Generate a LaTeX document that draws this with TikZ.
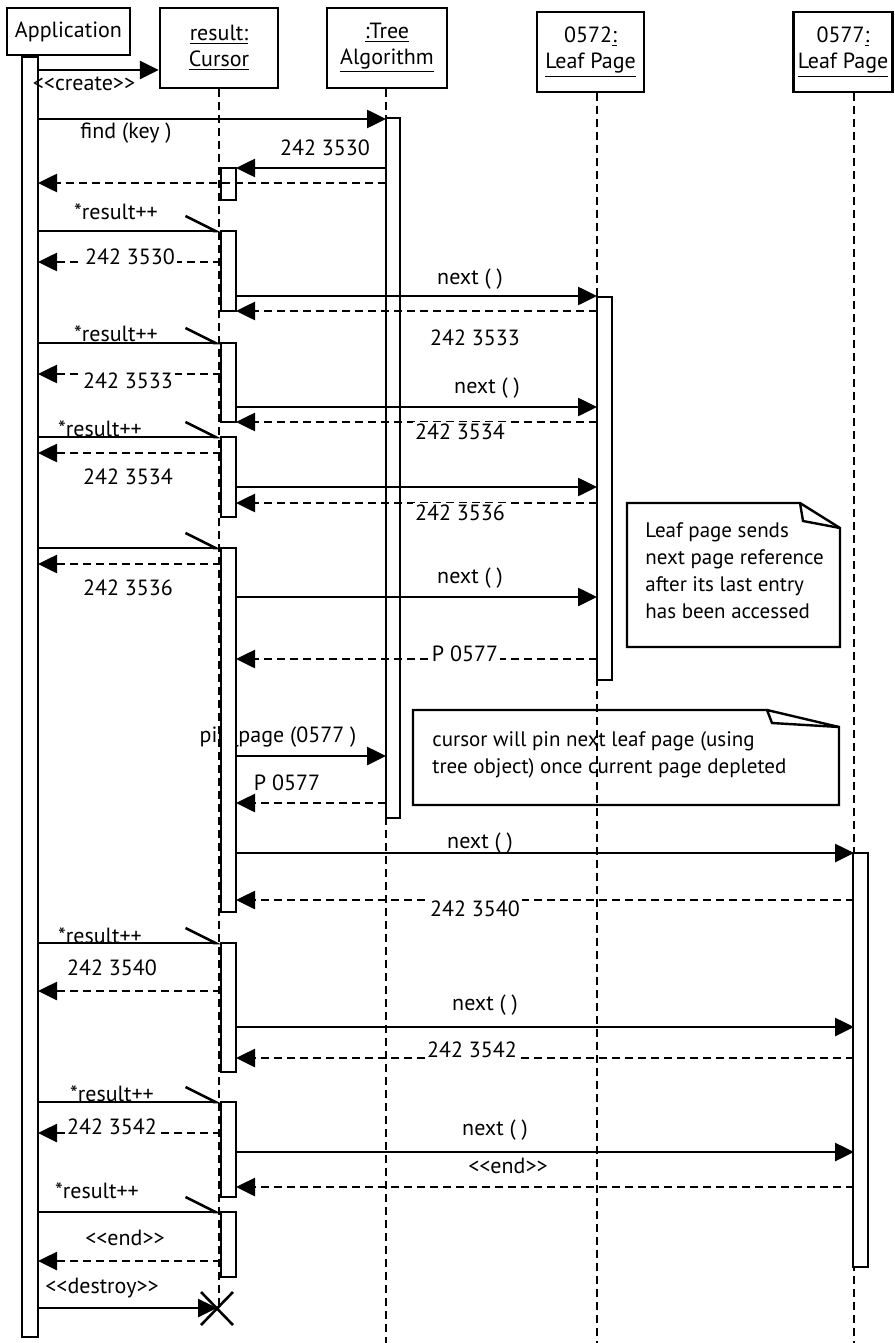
\documentclass[tikz,border=0pt]{standalone}
\usepackage{fontspec}
\newfontfamily\labelfont{PT Sans}
\newcommand{\msgfont}{\labelfont\fontsize{11}{13}\selectfont}
\newcommand{\notefont}{\labelfont\fontsize{10.5}{13.5}\selectfont}
\usetikzlibrary{arrows.meta}

\tikzset{
  obj/.style={draw, line width=1.2pt, align=center, inner sep=0pt, font=\msgfont},
  lifeline/.style={line width=1pt, dash pattern=on 4pt off 2.5pt},
  actbar/.style={draw, fill=white, line width=1.2pt},
  call/.style={line width=1.3pt, -{Triangle[length=9.5pt,width=9pt]}},
  reply/.style={call, dash pattern=on 4pt off 2.5pt},
  async/.style={line width=1.3pt, -{Straight Barb[harpoon,length=15pt,width=15pt]}},
  lbl/.style={inner sep=1pt, font=\msgfont},
  onlbl/.style={lbl, fill=white},
  note/.style={line width=1.2pt},
}

\begin{document}
\begin{tikzpicture}[x=0.5pt, y=-0.5pt]
\useasboundingbox (0,0) rectangle (894,1343);

% Objects
\node[obj, minimum width=61.5pt, minimum height=23.5pt] (app) at (68.5,31.5) {Application};
\node[obj, minimum width=59pt, minimum height=40pt] (cur) at (219,48) {\underline{result:}\\\underline{Cursor}};
\node[obj, minimum width=60pt, minimum height=40pt] (tree) at (387,48) {\underline{:Tree}\\\underline{Algorithm}};
\node[obj, minimum width=53.5pt, minimum height=40pt] (leafa) at (590.5,52) {0572\underline{:}\\\underline{Leaf Page}};
\node[obj, minimum width=49.5pt, minimum height=40pt] (leafb) at (843,52) {0577\underline{:}\\\underline{Leaf Page}};

\coordinate (appR) at (38,0);
\coordinate (curL) at (221,0);
\coordinate (curR) at (236,0);
\coordinate (treeL) at (386,0);
\coordinate (leafaL) at (597,0);
\coordinate (leafbL) at (854,0);
\coordinate (death) at (217,1308);

% Lifelines
\draw[lifeline] (cur.south) -- (cur.south |- death);
\draw[lifeline] (treeL |- tree.south) -- (treeL |- 0,1343);
\draw[lifeline] (leafaL |- leafa.south) -- (leafaL |- 0,1343);
\draw[lifeline] (leafbL |- leafb.south) -- (leafbL |- 0,1343);

\node[lbl] (lpin) at (278,737) {pin\_page (0577 )};

% Activation bars
\draw[actbar] (22,57) rectangle (38,1337);
\draw[actbar] (386,118) rectangle (400,818);
\draw[actbar] (597,297) rectangle (612,680);
\draw[actbar] (853,853) rectangle (868,1267);
\draw[actbar] (221,168) rectangle (236,200);
\draw[actbar] (221,231) rectangle (236,311);
\draw[actbar] (221,343) rectangle (236,422);
\draw[actbar] (221,437) rectangle (236,517);
\draw[actbar] (221,548) rectangle (236,912);
\draw[actbar] (221,943) rectangle (236,1072);
\draw[actbar] (221,1102) rectangle (236,1197);
\draw[actbar] (221,1212) rectangle (236,1277);

% Messages
\draw[call] (appR |- 0,70) -- (cur.west |- 0,70);
\draw[call] (appR |- 0,119) -- (treeL |- 0,119);
\draw[call] (treeL |- 0,168) -- (curR |- 0,168);
\draw[reply] (treeL |- 0,183) -- (appR |- 0,183);
\draw[async] (appR |- 0,231) -- (curL |- 0,231);
\draw[reply] (curL |- 0,262) -- (appR |- 0,262);
\draw[call] (curR |- 0,296) -- (leafaL |- 0,296);
\draw[reply] (leafaL |- 0,311) -- (curR |- 0,311);
\draw[async] (appR |- 0,343) -- (curL |- 0,343);
\draw[reply] (curL |- 0,374) -- (appR |- 0,374);
\draw[call] (curR |- 0,407) -- (leafaL |- 0,407);
\draw[reply] (leafaL |- 0,422) -- (curR |- 0,422);
\draw[async] (appR |- 0,437) -- (curL |- 0,437);
\draw[reply] (curL |- 0,453) -- (appR |- 0,453);
\draw[call] (curR |- 0,487) -- (leafaL |- 0,487);
\draw[reply] (leafaL |- 0,503) -- (curR |- 0,503);
\draw[async] (appR |- 0,548) -- (curL |- 0,548);
\draw[reply] (curL |- 0,564) -- (appR |- 0,564);
\draw[call] (curR |- 0,597) -- (leafaL |- 0,597);
\draw[reply] (leafaL |- 0,659) -- (curR |- 0,659);
\draw[call] (curR |- 0,756) -- (treeL |- 0,756);
\draw[reply] (treeL |- 0,803) -- (curR |- 0,803);
\draw[call] (curR |- 0,853) -- (leafbL |- 0,853);
\draw[reply] (leafbL |- 0,900) -- (curR |- 0,900);
\draw[async] (appR |- 0,943) -- (curL |- 0,943);
\draw[reply] (curL |- 0,991) -- (appR |- 0,991);
\draw[call] (curR |- 0,1027) -- (leafbL |- 0,1027);
\draw[reply] (leafbL |- 0,1058) -- (curR |- 0,1058);
\draw[async] (appR |- 0,1102) -- (curL |- 0,1102);
\draw[reply] (curL |- 0,1133) -- (appR |- 0,1133);
\draw[call] (curR |- 0,1152) -- (leafbL |- 0,1152);
\draw[reply] (leafbL |- 0,1187) -- (curR |- 0,1187);
\draw[async] (appR |- 0,1212) -- (curL |- 0,1212);
\draw[reply] (curL |- 0,1261) -- (appR |- 0,1261);
\draw[call] (appR |- death) -- (death);
\draw[line width=1.3pt] (201,1292) -- (233,1325);
\draw[line width=1.3pt] (233,1292) -- (201,1325);

% Labels
\node[lbl] (lcreate) at (84,84) {<<create>>};
\node[lbl] (lfind) at (126,133) {find (key )};
\node[lbl] (lr1) at (325,148) {242 3530};
\node[lbl] (ls1) at (116,212) {*result++};
\node[onlbl] (lr2) at (130,257) {242 3530};
\node[lbl] (ln1) at (470,279) {next ( )};
\node[lbl] (lr3) at (475,338) {242 3533};
\node[lbl] (ls2) at (116,334) {*result++};
\node[onlbl] (lr4) at (128,381) {242 3533};
\node[lbl] (ln2) at (487,388) {next ( )};
\node[onlbl] (lr5) at (460,432) {242 3534};
\node[lbl] (ls3) at (100,429) {*result++};
\node[lbl] (lr6) at (128,477) {242 3534};
\node[onlbl] (lr7) at (460,513) {242 3536};
\node[lbl] (lr8) at (128,588) {242 3536};
\node[lbl] (ln3) at (470,578) {next ( )};
\node[onlbl] (lp1) at (465,654) {P 0577};
\node[lbl] (lp2) at (287,783) {P 0577};
\node[lbl] (ln4) at (480,843) {next ( )};
\node[onlbl] (lr9) at (475,909) {242 3540};
\node[lbl] (ls4) at (100,936) {*result++};
\node[lbl] (lr10) at (112,968) {242 3540};
\node[lbl] (ln5) at (485,1005) {next ( )};
\node[onlbl] (lr11) at (472,1050) {242 3542};
\node[lbl] (ls5) at (112,1094) {*result++};
\node[onlbl] (lr12) at (112,1127) {242 3542};
\node[lbl] (ln6) at (495,1130) {next ( )};
\node[lbl] (lend1) at (508,1166) {<<end>>};
\node[lbl] (ls6) at (97,1191) {*result++};
\node[lbl] (lend2) at (125,1238) {<<end>>};
\node[lbl] (ldestroy) at (102,1288) {<<destroy>>};

% Notes
\draw[note] (627,503) -- (800,503) -- (840,528) -- (840,647) -- (627,647) -- cycle;
\draw[note] (800,503) -- (803,521) -- (840,528);
\node[lbl, align=left, anchor=west, font=\notefont] (note1) at (643,571) {Leaf page sends\\next page reference\\after its last entry\\has been accessed};
\draw[note] (413,710) -- (767,710) -- (839,727) -- (839,805) -- (413,805) -- cycle;
\draw[note] (767,710) -- (772,723) -- (839,727);
\node[lbl, align=left, anchor=west, font=\notefont] (note2) at (430,755) {cursor will pin next leaf page (using\\tree object) once current page depleted};
\end{tikzpicture}
\end{document}
